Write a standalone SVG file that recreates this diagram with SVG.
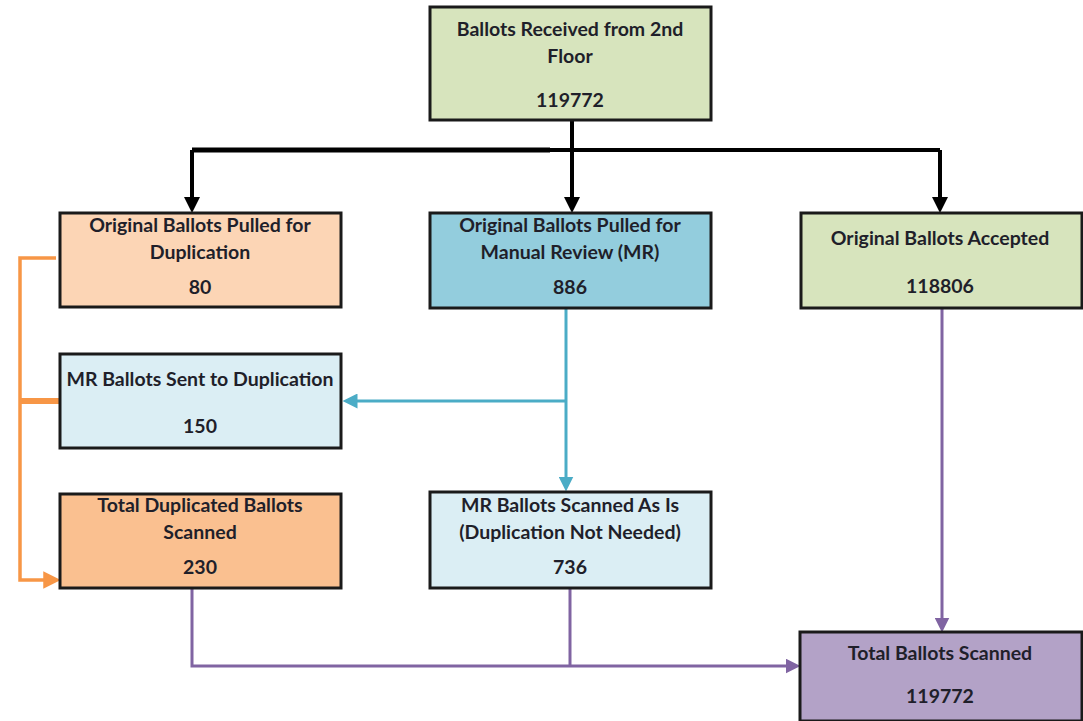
<svg xmlns="http://www.w3.org/2000/svg" width="1083" height="721" viewBox="0 0 1083 721">
<style>
.box{stroke:#1a1a1a;stroke-width:3}
text{font-family:Lato,"Open Sans","Liberation Sans",sans-serif;font-weight:bold;font-size:19.5px;fill:#1f1f2a;text-anchor:middle}
.k{stroke:#000;stroke-width:4;fill:none}
.o{stroke:#f79646;stroke-width:3.5;fill:none}
.c{stroke:#4bacc6;stroke-width:3;fill:none}
.p{stroke:#8064a2;stroke-width:3;fill:none}
</style>
<defs>
<marker id="ak" markerWidth="4" markerHeight="4" refX="2" refY="2" orient="auto" markerUnits="strokeWidth"><path d="M0,0L4,2L0,4z" fill="#000"/></marker>
<marker id="ao" markerWidth="5" markerHeight="5" refX="2.5" refY="2.5" orient="auto" markerUnits="strokeWidth"><path d="M0,0L5,2.5L0,5z" fill="#f79646"/></marker>
<marker id="ac" markerWidth="5" markerHeight="5" refX="2.5" refY="2.5" orient="auto" markerUnits="strokeWidth"><path d="M0,0L5,2.5L0,5z" fill="#4bacc6"/></marker>
<marker id="ap" markerWidth="5" markerHeight="5" refX="2.5" refY="2.5" orient="auto" markerUnits="strokeWidth"><path d="M0,0L5,2.5L0,5z" fill="#8064a2"/></marker>
</defs>
<g id="connectors">
<path class="k" d="M572,120V150"/>
<path class="k" d="M192,150H940" />
<path d="M192,150H550" stroke="#000" stroke-width="5"/>
<path class="k" d="M192,150V205" marker-end="url(#ak)"/>
<path class="k" d="M572,150V205" marker-end="url(#ak)"/>
<path class="k" d="M940,150V205" marker-end="url(#ak)"/>
<path class="o" d="M56,258H20V580H52" marker-end="url(#ao)"/>
<path d="M20,401H60" stroke="#f79646" stroke-width="6"/>
<path class="c" d="M566,308V484" marker-end="url(#ac)"/>
<path class="c" d="M566,401H350" marker-end="url(#ac)"/>
<path class="p" d="M192,588V666H793" marker-end="url(#ap)"/>
<path class="p" d="M570,588V666"/>
<path class="p" d="M942,308V625" marker-end="url(#ap)"/>
</g>
<g id="n-received"><rect class="box" x="430" y="7" width="281" height="113" fill="#d7e4bd"/>
<text x="570" y="36">Ballots Received from 2nd</text><text x="570" y="63">Floor</text><text x="570" y="107">119772</text></g>
<g id="n-dup"><rect class="box" x="60" y="213" width="281" height="94" fill="#fcd5b5"/>
<text x="200" y="232">Original Ballots Pulled for</text><text x="200" y="259">Duplication</text><text x="200" y="294">80</text></g>
<g id="n-mr"><rect class="box" x="430" y="213" width="281" height="95" fill="#93cddd"/>
<text x="570" y="232">Original Ballots Pulled for</text><text x="570" y="259">Manual Review (MR)</text><text x="570" y="294">886</text></g>
<g id="n-accepted"><rect class="box" x="801" y="213" width="281" height="95" fill="#d7e4bd"/>
<text x="940" y="245">Original Ballots Accepted</text><text x="940" y="293">118806</text></g>
<g id="n-mrsent"><rect class="box" x="60" y="354" width="281" height="94" fill="#dbeef4"/>
<text x="200" y="386">MR Ballots Sent to Duplication</text><text x="200" y="433">150</text></g>
<g id="n-totaldup"><rect class="box" x="60" y="494" width="281" height="94" fill="#fac090"/>
<text x="200" y="512">Total Duplicated Ballots</text><text x="200" y="539">Scanned</text><text x="200" y="574">230</text></g>
<g id="n-mrscanned"><rect class="box" x="430" y="492" width="281" height="96" fill="#dbeef4"/>
<text x="570" y="512">MR Ballots Scanned As Is</text><text x="570" y="539">(Duplication Not Needed)</text><text x="570" y="574">736</text></g>
<g id="n-total"><rect class="box" x="800" y="632" width="282" height="89" fill="#b3a2c7"/>
<text x="940" y="660">Total Ballots Scanned</text><text x="940" y="703">119772</text></g>
</svg>
